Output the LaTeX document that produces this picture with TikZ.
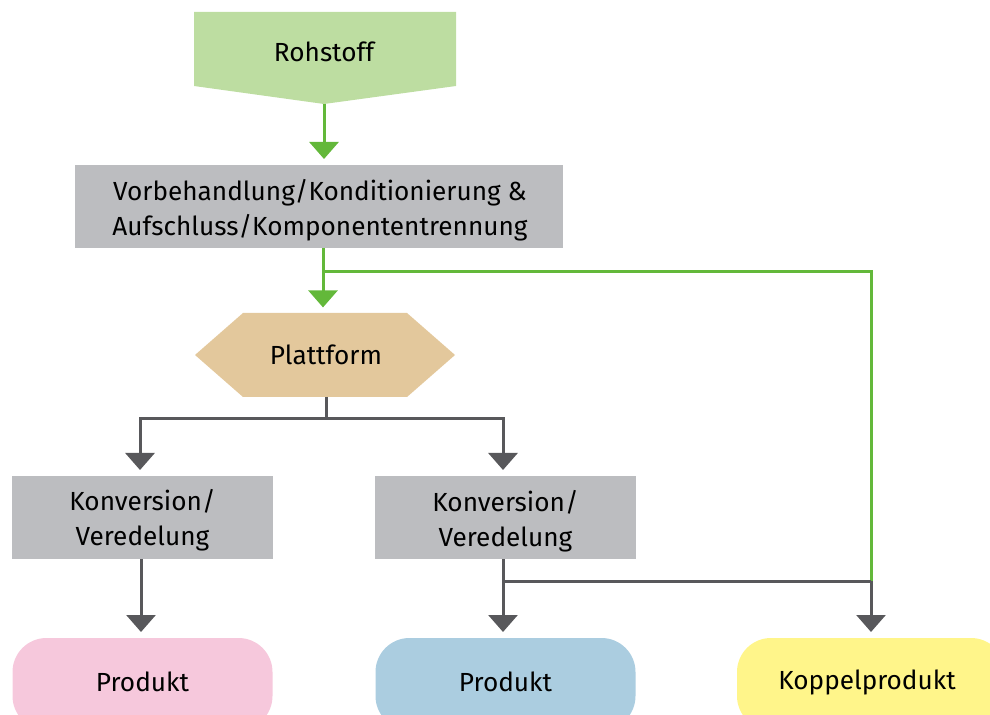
\documentclass[tikz,border=0pt]{standalone}
\usepackage{fontspec}
\setmainfont{Fira Sans}
\usetikzlibrary{arrows.meta}
\definecolor{rawfill}{HTML}{BDDDA1}
\definecolor{flowgreen}{HTML}{63B83A}
\definecolor{procgrey}{HTML}{BCBDC0}
\definecolor{linegrey}{HTML}{58585B}
\definecolor{platfill}{HTML}{E3C89C}
\definecolor{pinkfill}{HTML}{F6C8DC}
\definecolor{bluefill}{HTML}{ABCDE0}
\definecolor{yellowfill}{HTML}{FFF58A}
\begin{document}
\begin{tikzpicture}[x=0.5pt,y=-0.5pt,
  font=\fontsize{13.1}{17.6}\selectfont,
  procbox/.style={fill=procgrey,minimum width=#1,minimum height=41.5pt,inner sep=0pt},
  endbox/.style={fill=#1,minimum width=130pt,minimum height=46pt,rounded corners=17pt,inner sep=0pt},
  gline/.style={draw=flowgreen,line width=1.5pt},
  garrow/.style={gline,-{Triangle[width=14.5pt,length=8.5pt]},shorten >=2.8pt},
  dline/.style={draw=linegrey,line width=1.5pt},
  darrow/.style={dline,-{Triangle[width=14.5pt,length=8.5pt]},shorten >=2.8pt},
  txt/.style={inner sep=0pt,align=center}]
\useasboundingbox (0,0) rectangle (990,715);
\clip (0,0) rectangle (990,715);

% raw material: pentagon pointing down
\fill[rawfill] (194,12) -- (456,12) -- (456,86) -- (324,104) -- (194,86) -- cycle;
\coordinate (rohtip) at (324,104);
\node[txt] (roh) at (324,52) {Rohstoff};

% pretreatment
\node[procbox=244pt] (pre) at (319,206.5) {};
\node[txt] (pret) at (320,210)
  {Vorbehandlung/Konditionierung \&\\Aufschluss/Komponententrennung};

% platform: hexagon
\fill[platfill] (195,355) -- (243,313) -- (407,313) -- (455,355) -- (407,397) -- (243,397) -- cycle;
\coordinate (platN) at (324,313);
\coordinate (platS) at (326,397);
\node[txt] (plat) at (326,355) {Plattform};

% conversion steps
\node[procbox=130.5pt] (kv1) at (142.5,517.5) {};
\node[txt] (kv1t) at (142.5,520) {Konversion/\\Veredelung};
\node[procbox=130.5pt] (kv2) at (505.5,517.5) {};
\node[txt] (kv2t) at (505.5,521) {Konversion/\\Veredelung};

% products
\node[endbox=pinkfill] (p1) at (142.5,684) {};
\node[txt] (p1t) at (142.5,682) {Produkt};
\node[endbox=bluefill] (p2) at (505.5,684) {};
\node[txt] (p2t) at (505.5,682) {Produkt};
\node[endbox=yellowfill,minimum width=134pt] (kp) at (871,684) {};
\node[txt] (kpt) at (867,682) {Koppelprodukt};

% green flow
\draw[garrow] (rohtip) -- (rohtip |- pre.north);
\coordinate (gsplit) at (323,272);
\coordinate (gcorner) at (871,272);
\coordinate (kjoin) at (871,581);
\draw[gline] (pre.south -| gsplit) -- (gsplit);
\draw[garrow] (gsplit) -- (platN -| gsplit);
\draw[gline,line join=miter] (gsplit) -- (gcorner) -- (kjoin);

% grey flow
\coordinate (psplit) at (326,419);
\draw[dline] (platS) -- (psplit);
\draw[darrow,line join=miter] (psplit) -| (140,0 |- kv1.north);
\draw[darrow,line join=miter] (psplit) -| (503,0 |- kv2.north);
\draw[darrow] (141,0 |- kv1.south) -- (141,0 |- p1.north);
\coordinate (kvjoin) at (503,581);
\draw[dline] (503,0 |- kv2.south) -- (kvjoin);
\draw[darrow] (kvjoin) -- (kvjoin |- p2.north);
\draw[dline] (kvjoin) -- (kjoin);
\draw[darrow] (kjoin) -- (kjoin |- kp.north);
\end{tikzpicture}
\end{document}
